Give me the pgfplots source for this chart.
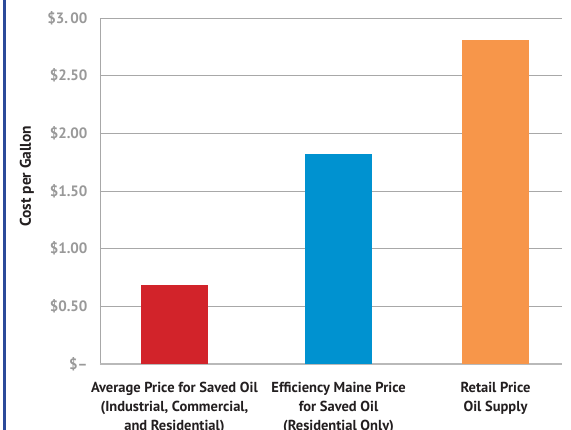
\documentclass[border=0pt]{standalone}
\usepackage{pgfplots}
\pgfplotsset{compat=1.18}
\usepackage{fontspec}
\setmainfont{PT Sans}
\definecolor{barred}{HTML}{D2232A}
\definecolor{barblue}{HTML}{0092D0}
\definecolor{barorange}{HTML}{F7964A}
\definecolor{gridgray}{HTML}{A8A8A8}
\definecolor{ticklab}{HTML}{999999}
\definecolor{textdark}{HTML}{231F20}
\definecolor{frameblue}{HTML}{2B4A9A}
\begin{document}
\begin{tikzpicture}
\useasboundingbox (-100pt,-66pt) rectangle (471pt,364pt);
\clip (-100pt,-66pt) rectangle (471pt,364pt);
\fill[frameblue] (-96.5pt,-70pt) rectangle (-94pt,370pt);
\begin{axis}[
  at={(0pt,0pt)}, anchor=south west,
  scale only axis, width=462pt, height=346pt,
  xmin=-0.464, xmax=2.414,
  ymin=0, ymax=3,
  axis x line*=bottom, axis y line*=left,
  axis line style={draw=none},
  ytick={0,0.5,1,1.5,2,2.5,3},
  yticklabels={\$--,\$0.50,\$1.00,\$1.50,\$2.00,\$2.50,\$3.\,00},
  yticklabel style={font=\fontsize{15}{15}\selectfont\bfseries, text=ticklab, xshift=-9pt},
  ymajorgrids, major grid style={gridgray, line width=0.9pt},
  major tick length=0pt,
  xtick={0,1.022,2},
  xticklabels={{Average Price for Saved Oil\\(Industrial, Commercial,\\and Residential)},
               {Efficiency Maine Price\\for Saved Oil\\(Residential Only)},
               {Retail Price\\Oil Supply}},
  xticklabel style={font=\fontsize{14.5}{19}\selectfont\bfseries, text=textdark, align=center, anchor=north, yshift=-15pt},
  ylabel={Cost per Gallon},
  ylabel style={font=\fontsize{15.5}{15.5}\selectfont\bfseries, text=textdark, at={(axis description cs:-0.158,0.543)}, anchor=center},
  clip=false,
]
\draw[gridgray, line width=0.9pt] (axis cs:-0.464,0) -- (axis cs:-0.464,3);
\draw[gray!55, line width=1.8pt] (axis cs:-0.464,0) -- (axis cs:2.414,0);
\addplot[ybar, bar width=0.417, fill=barred, draw=none] coordinates {(0,0.685)};
\addplot[ybar, bar width=0.417, fill=barblue, draw=none] coordinates {(1.022,1.82)};
\addplot[ybar, bar width=0.417, fill=barorange, draw=none] coordinates {(2,2.81)};
\end{axis}
\end{tikzpicture}
\end{document}
